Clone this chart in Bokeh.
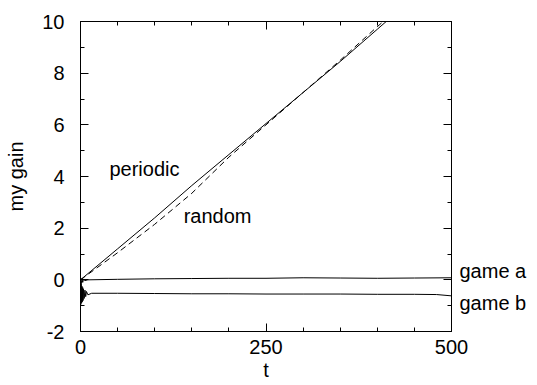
from bokeh.plotting import figure
from bokeh.models import Range1d, LinearAxis, FixedTicker, Label
from bokeh.embed import file_html
from bokeh.resources import INLINE

# ---- data ----
t_periodic = [0, 50, 100, 150, 200, 250, 300, 350, 400, 420]
periodic = [0.0, 1.2, 2.4, 3.65, 4.85, 6.05, 7.25, 8.45, 9.7, 10.2]

t_random = [0, 50, 100, 150, 200, 250, 300, 350, 400, 420]
random_gain = [0.0, 1.05, 2.15, 3.35, 4.75, 6.0, 7.25, 8.5, 9.8, 10.3]

t_game_a = [0, 1, 2, 3, 4, 6, 10, 50, 100, 150, 200, 250, 300, 350, 400, 450, 500]
game_a = [0.0, -0.15, 0.05, -0.1, 0.02, -0.03, 0.0, 0.02, 0.04, 0.05, 0.06, 0.06, 0.08, 0.07, 0.06, 0.07, 0.08]

t_game_b = [0, 0.5, 1, 1.5, 2, 2.5, 3, 3.5, 4, 5, 6, 7, 8, 10, 15, 50, 100, 150, 200, 250, 300, 350, 400, 450, 480, 500]
game_b = [-0.1, -0.95, -0.15, -0.9, -0.25, -0.85, -0.3, -0.8, -0.35, -0.72, -0.4, -0.65, -0.45, -0.58, -0.52,
          -0.52, -0.53, -0.54, -0.54, -0.55, -0.55, -0.55, -0.56, -0.56, -0.57, -0.62]

x_major = [0, 250, 500]
x_minor = [50, 100, 150, 200, 300, 350, 400, 450]
y_major = [-2, 0, 2, 4, 6, 8, 10]
y_minor = [-1, 1, 3, 5, 7, 9]

# in-plot curve labels
curve_labels = ["periodic", "random"]
curve_label_x = [39, 139]
curve_label_y = [4.3, 2.48]

# labels right of the frame
side_labels = ["game a", "game b"]
side_label_y = [0.35, -0.88]

FONT = "Liberation Sans"
FS = "20px"

p = figure(width=537, height=385, output_backend="svg", toolbar_location=None,
           x_range=Range1d(0, 500), y_range=Range1d(-2, 10),
           min_border_left=80, min_border_right=86, min_border_top=21, min_border_bottom=54)
p.grid.visible = False
p.outline_line_color = "black"
p.background_fill_color = "white"
p.border_fill_color = "white"


def style_axis(ax, ticks, minor, labels=True, major_in=8):
    ax.ticker = FixedTicker(ticks=ticks, minor_ticks=minor)
    ax.axis_line_color = "black"
    ax.major_tick_line_color = "black"
    ax.minor_tick_line_color = "black"
    ax.major_tick_in = major_in
    ax.major_tick_out = 0
    ax.minor_tick_in = 4
    ax.minor_tick_out = 0
    ax.major_label_text_font = FONT
    ax.major_label_text_font_size = FS
    ax.major_label_text_color = "black"
    ax.axis_label_text_font = FONT
    ax.axis_label_text_font_size = FS
    ax.axis_label_text_font_style = "normal"
    ax.axis_label_text_color = "black"
    if not labels:
        ax.major_label_overrides = {t: "" for t in ticks}
        ax.major_label_standoff = 0


xa = p.xaxis[0]
style_axis(xa, x_major, x_minor)
xa.axis_label = "t"
xa.major_label_standoff = 8
xa.axis_label_standoff = 2

ya = p.yaxis[0]
style_axis(ya, y_major, y_minor)
ya.major_label_overrides = {v: str(v).replace("\u2212", "-") for v in y_major}
ya.axis_label = "my gain"
ya.major_label_standoff = 16
ya.axis_label_standoff = 12

top = LinearAxis()
style_axis(top, x_major, x_minor, labels=False)
p.add_layout(top, "above")

right = LinearAxis()
style_axis(right, y_major, y_minor, labels=False)
p.add_layout(right, "right")

side = LinearAxis()
side.ticker = FixedTicker(ticks=side_label_y, minor_ticks=[])
side.major_label_overrides = {v: s for v, s in zip(side_label_y, side_labels)}
side.axis_line_color = None
side.major_tick_line_color = None
side.minor_tick_line_color = None
side.major_tick_in = 0
side.major_tick_out = 0
side.major_label_standoff = 8
side.major_label_text_font = FONT
side.major_label_text_font_size = FS
side.major_label_text_color = "black"
p.add_layout(side, "right")

p.line(t_periodic, periodic, line_color="black", line_width=1)
p.line(t_random, random_gain, line_color="black", line_width=1, line_dash="6 4")
p.line(t_game_a, game_a, line_color="black", line_width=1)
p.line(t_game_b, game_b, line_color="black", line_width=1)

for txt, lx, ly in zip(curve_labels, curve_label_x, curve_label_y):
    p.add_layout(Label(x=lx, y=ly, text=txt, text_font=FONT, text_font_size=FS,
                       text_baseline="middle", text_align="left", text_color="black"))

open("out.html", "w").write(file_html(p, INLINE))
